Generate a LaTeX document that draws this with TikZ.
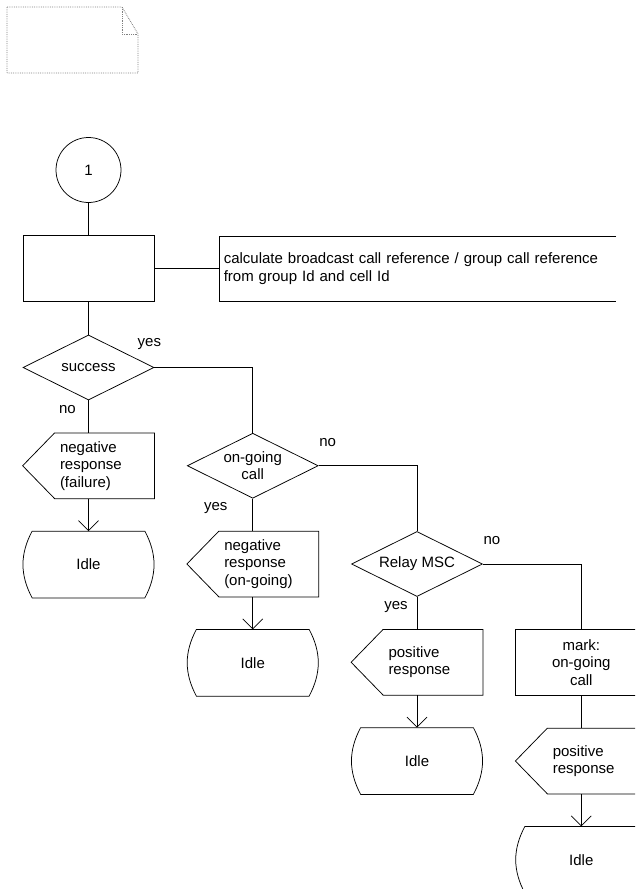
\documentclass[tikz,border=0pt]{standalone}
\usepackage{fontspec}
\setmainfont{Liberation Sans}
\usetikzlibrary{shapes.geometric, positioning, arrows.meta}
\tikzset{
x=1pt, y=-1pt, % one unit per pixel, y runs downwards
node distance=32.5pt, % gap between two symbols of a column
>={Straight Barb[length=10pt, width=20pt]}, % open arrow heads
every node/.style={font=\fontsize{15pt}{17.5pt}\selectfont},
sdlconnector/.style={circle, draw, minimum size=65pt, inner sep=0pt},
sdltask/.style={rectangle, draw, minimum width=131pt, minimum height=66pt, align=center},
sdldecision/.style={diamond, draw, aspect=2, minimum width=131pt, minimum height=65pt, inner sep=0pt, align=center},
sdlsend/.style={rectangle, minimum height=65pt, text width=131pt, inner sep=0pt, align=left, execute at begin node={\leftskip=37pt}}, % outline drawn below
sdlstate/.style={rectangle, minimum width=112pt, minimum height=66pt, inner sep=0pt}, % outline drawn below
sdlcomment/.style={rectangle, minimum width=396pt, minimum height=65pt, text width=388pt, inner sep=4pt, align=left},
yesno/.style={inner sep=0pt},
notebox/.style={densely dotted, gray, line width=0.8pt},
}

\begin{document}
\begin{tikzpicture}[line width=0.75pt]
        \useasboundingbox (0,0) rectangle (635,889);
        \clip (0,0) rectangle (635,889);

        % page symbol in the corner
        \draw[notebox] (7,7) -- (122,7) -- (138,34) -- (138,73) -- (7,73) -- cycle;
        \draw[notebox] (122,7) -- (122,34) -- (138,34);

        \node[sdlconnector] (c1) at (88.5,170) {1};
        \node[sdltask, below=of c1] (calc) {};
        \node[sdlcomment, right=65pt of calc] (note) {calculate broadcast call reference / group call reference\\from group Id and cell Id};
        \node[sdldecision, below=of calc] (success) {success};
        \node[sdlsend, below=of success] (failure) {negative\\response\\(failure)};
        \node[sdlstate, below=of failure] (idleA) {Idle};

        \node[sdldecision, right=of failure] (ongoing) {on-going\\call};
        \node[sdlsend, below=of ongoing] (negongoing) {negative\\response\\(on-going)};
        \node[sdlstate, below=of negongoing] (idleB) {Idle};

        \node[sdldecision, right=of negongoing] (relay) {Relay MSC};
        \node[sdlsend, below=of relay] (posresp) {positive\\response};
        \node[sdlstate, below=of posresp] (idleC) {Idle};

        \node[sdltask, right=of posresp] (mark) {mark:\\on-going\\call};
        \node[sdlsend, below=of mark] (posrespB) {positive\\response};
        \node[sdlstate, below=of posrespB] (idleD) {Idle};

        % outlines of the output and state symbols
        \foreach \s in {failure, negongoing, posresp, posrespB}
            \draw ([xshift=32pt]\s.north west) -- (\s.north east) -- (\s.south east) -- ([xshift=32pt]\s.south west) -- (\s.west) -- cycle;
        \foreach \s in {idleA, idleB, idleC, idleD}
            \draw (\s.north west) -- (\s.north east) to[bend left=28] (\s.south east) -- (\s.south west) to[bend left=28] (\s.north west) -- cycle;

        \draw (c1) -- (calc);
        \draw (calc) -- (note);
        \draw (note.north east) -- (note.north west) -- (note.south west) -- (note.south east);
        \draw (calc) -- (success);
        \draw (success.south) -- node[yesno, pos=0, xshift=-21pt, yshift=-9pt] {no} (failure.north);
        \draw[->] (failure) -- (idleA);
        \draw (success.east) -| node[yesno, pos=0, xshift=-5pt, yshift=23.5pt] {yes} (ongoing.north);
        \draw (ongoing.south) -- node[yesno, pos=0, xshift=-37pt, yshift=-9pt] {yes} (negongoing.north);
        \draw[->] (negongoing) -- (idleB);
        \draw (ongoing.east) -| node[yesno, pos=0, xshift=9pt, yshift=23.5pt] {no} (relay.north);
        \draw (relay.south) -- node[yesno, pos=0, xshift=-21pt, yshift=-10pt] {yes} (posresp.north);
        \draw[->] (posresp) -- (idleC);
        \draw (relay.east) -| node[yesno, pos=0, xshift=9pt, yshift=23pt] {no} (mark.north);
        \draw (mark) -- (posrespB);
        \draw[->] (posrespB) -- (idleD);
    \end{tikzpicture}
\end{document}
